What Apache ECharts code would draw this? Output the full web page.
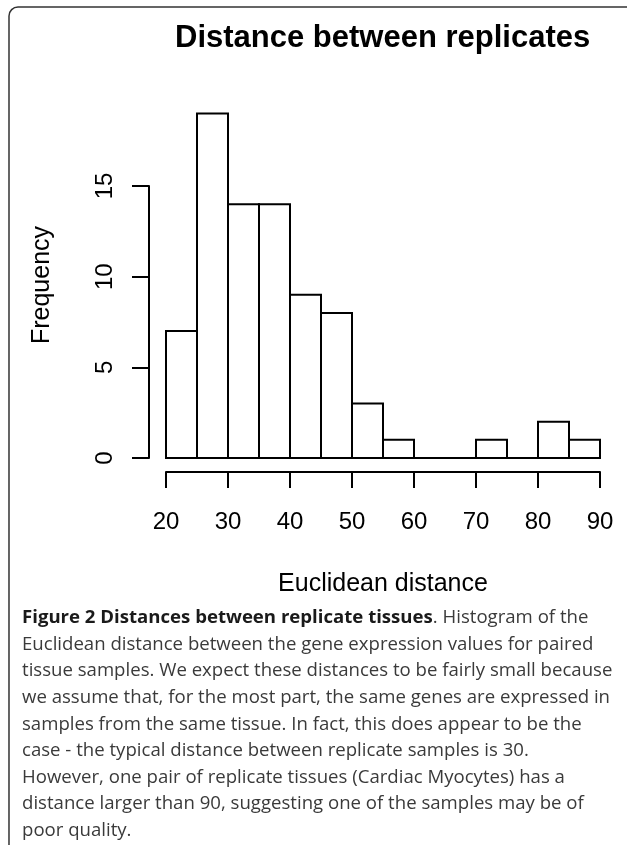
<!DOCTYPE html>
<html>
<head>
<meta charset="utf-8">
<script src="https://cdn.jsdelivr.net/npm/echarts@6/dist/echarts.min.js"></script>
<style>
html,body{margin:0;padding:0;background:#fff;}
#chart{width:627px;height:845px;}
</style>
</head>
<body>
<div id="chart"></div>
<script>
// Histogram data: bin edges and counts
const binStarts = [20, 25, 30, 35, 40, 45, 50, 55, 60, 65, 70, 75, 80, 85];
const binEnds   = [25, 30, 35, 40, 45, 50, 55, 60, 65, 70, 75, 80, 85, 90];
const counts    = [7, 19, 14, 14, 9, 8, 3, 1, 0, 0, 1, 0, 2, 1];
const xTicks = [20, 30, 40, 50, 60, 70, 80, 90];
const yTicks = [0, 5, 10, 15];

const titleText = 'Distance between replicates';
const xLabel = 'Euclidean distance';
const yLabel = 'Frequency';
const captionLines = [
  '{b|Figure 2 Distances between replicate tissues}. Histogram of the',
  'Euclidean distance between the gene expression values for paired',
  'tissue samples. We expect these distances to be fairly small because',
  'we assume that, for the most part, the same genes are expressed in',
  'samples from the same tissue. In fact, this does appear to be the',
  'case - the typical distance between replicate samples is 30.',
  'However, one pair of replicate tissues (Cardiac Myocytes) has a',
  'distance larger than 90, suggesting one of the samples may be of',
  'poor quality.'
];

const histData = binStarts.map((s, i) => [s, binEnds[i], counts[i]]);
const RFONT = '"Liberation Sans", Arial, Helvetica, sans-serif';
const CFONT = '"Open Sans", "Noto Sans", sans-serif';
const CSIZE = 18.6;

const chart = echarts.init(document.getElementById('chart'), null, {renderer: 'canvas'});

const captionY0 = 618;
const captionStep = 26.6;
const captionGraphics = captionLines.map((t, i) => ({
  type: 'text',
  x: 22,
  y: captionY0 + i * captionStep,
  style: {
    text: t,
    font: CSIZE + 'px ' + CFONT,
    fill: '#3a3a3a',
    textVerticalAlign: 'middle',
    verticalAlign: 'middle',
    rich: {
      b: {fontFamily: CFONT, fontSize: CSIZE, fontWeight: 'bold', fill: '#1a1a1a'}
    }
  }
}));

const hidden = {show: false};
const xMin = xTicks[0], xMax = xTicks[xTicks.length - 1];
const yMin = yTicks[0], yMax = yTicks[yTicks.length - 1];

chart.setOption({
  backgroundColor: '#fff',
  animation: false,
  title: {
    text: titleText,
    left: 170,
    top: 18,
    textStyle: {fontFamily: RFONT, fontSize: 31, fontWeight: 'bold', color: '#000'}
  },
  grid: [
    // data area: x 20..90 -> px 166..600, y 0..15 -> px 458..186
    {left: 166, right: 27, top: 186, bottom: 387, containLabel: false},
    // x axis placed below the data (R style offset axis)
    {left: 166, right: 27, top: 471, height: 1, containLabel: false},
    // y axis placed left of the data
    {left: 149, width: 1, top: 186, bottom: 387, containLabel: false}
  ],
  xAxis: [
    {gridIndex: 0, type: 'value', min: xMin, max: xMax, show: false},
    {
      gridIndex: 1, type: 'value', min: xMin, max: xMax, interval: 10,
      position: 'bottom',
      name: xLabel,
      nameLocation: 'middle',
      nameGap: 100,
      nameTextStyle: {fontFamily: RFONT, fontSize: 25, color: '#000'},
      axisLine: {show: true, onZero: false, lineStyle: {color: '#000', width: 2}},
      axisTick: {show: true, length: 16, lineStyle: {color: '#000', width: 2}},
      axisLabel: {show: true, margin: 38, fontFamily: RFONT, fontSize: 24, color: '#000'},
      splitLine: hidden
    },
    {gridIndex: 2, type: 'value', min: 0, max: 1, show: false}
  ],
  yAxis: [
    {gridIndex: 0, type: 'value', min: yMin, max: yMax, show: false},
    {gridIndex: 1, type: 'value', min: 0, max: 1, show: false},
    {
      gridIndex: 2, type: 'value', min: yMin, max: yMax, interval: 5,
      position: 'left',
      axisLine: {show: true, onZero: false, lineStyle: {color: '#000', width: 2}},
      axisTick: {show: true, length: 17, lineStyle: {color: '#000', width: 2}},
      axisLabel: {show: true, rotate: 90, margin: 32, fontFamily: RFONT, fontSize: 24, color: '#000'},
      splitLine: hidden
    }
  ],
  series: [{
    type: 'custom',
    xAxisIndex: 0,
    yAxisIndex: 0,
    clip: false,
    data: histData,
    renderItem: function (params, api) {
      const p0 = api.coord([api.value(0), api.value(2)]);
      const p1 = api.coord([api.value(1), 0]);
      return {
        type: 'rect',
        shape: {x: p0[0], y: p0[1], width: p1[0] - p0[0], height: p1[1] - p0[1]},
        style: {fill: '#fff', stroke: '#000', lineWidth: 2}
      };
    }
  }],
  graphic: [
    {
      type: 'rect',
      shape: {x: 9, y: 7, width: 800, height: 900, r: 9},
      style: {fill: 'none', stroke: '#333', lineWidth: 1.5},
      silent: true
    },
    {
      type: 'text',
      x: 42, y: 285,
      rotation: Math.PI / 2,
      style: {
        text: yLabel,
        font: '25px ' + RFONT,
        fill: '#000',
        textAlign: 'center',
        textVerticalAlign: 'middle',
        verticalAlign: 'middle'
      }
    }
  ].concat(captionGraphics)
});
</script>
</body>
</html>
